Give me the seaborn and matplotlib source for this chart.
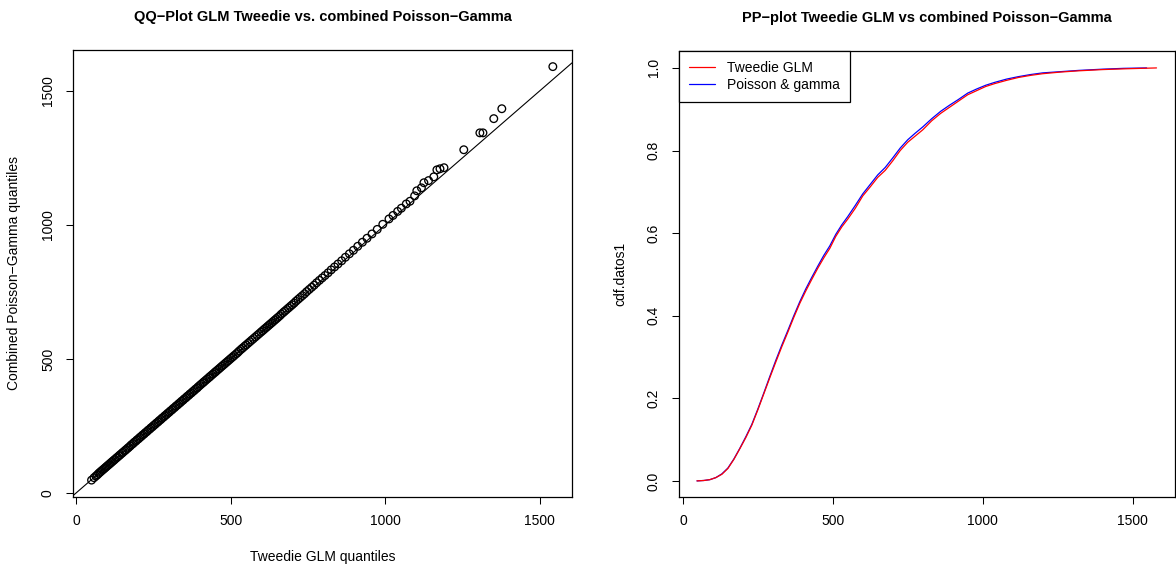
import matplotlib
matplotlib.use("Agg")
import matplotlib.pyplot as plt
import seaborn as sns
import pandas as pd

# ---------------- data ----------------
qq_tweedie = [50, 58, 64, 69, 73, 77, 81, 85, 89, 93, 97, 101, 105, 109, 113, 117, 121,
              125, 130, 134, 139, 143, 148, 152, 157, 161, 166,
              170, 175, 179, 184, 188, 193, 197, 202, 206, 211,
              215, 220, 224, 229, 233, 238, 242, 247, 251, 256,
              260, 265, 269, 274, 278, 283, 287, 292, 296, 301,
              305, 310, 314, 319, 323, 328, 332, 337, 341, 346,
              350, 355, 359, 364, 368, 373, 377, 382, 386, 391,
              395, 400, 405, 410, 414, 419, 424, 429, 433, 438,
              443, 448, 452, 457, 462, 467, 472, 477, 482, 487,
              492, 497, 502, 507, 512, 518, 523, 528, 534, 539,
              545, 550, 556, 562, 568, 574, 580, 586, 592, 598,
              603, 608, 613, 618, 623, 628, 633, 638, 643, 648,
              653, 659, 664, 670, 675, 681, 687, 693, 699, 705,
              711, 718, 725, 732, 739, 746, 754, 762, 770, 778,
              787, 796, 805, 815, 825, 836, 847, 859, 871, 884,
              897, 911, 926, 941, 957, 974, 992,
              1012, 1025, 1040, 1052, 1068, 1080, 1095, 1102, 1117, 1125,
              1140, 1157, 1167, 1177, 1190, 1254, 1306, 1316, 1351, 1377, 1542]
qq_poisgamma = [48, 57, 63, 68, 73, 77, 81, 85, 89, 93, 97, 101, 105, 109, 113, 117, 121,
                125, 130, 134, 139, 143, 148, 152, 157, 161, 166,
                170, 175, 180, 184, 189, 193, 198, 202, 207, 211,
                216, 220, 225, 229, 234, 238, 243, 247, 252, 256,
                261, 265, 270, 274, 279, 283, 288, 292, 297, 301,
                306, 310, 315, 319, 324, 328, 333, 337, 342, 346,
                351, 355, 360, 364, 369, 373, 378, 382, 387, 391,
                396, 401, 406, 411, 415, 420, 425, 430, 434, 439,
                444, 449, 453, 458, 463, 468, 473, 478, 483, 488,
                493, 498, 503, 508, 513, 519, 524, 530, 536, 541,
                547, 552, 558, 564, 570, 576, 582, 588, 594, 600,
                605, 610, 615, 620, 625, 630, 635, 640, 645, 650,
                655, 661, 667, 673, 678, 684, 690, 696, 702, 708,
                715, 722, 729, 736, 743, 751, 759, 767, 775, 784,
                793, 802, 811, 821, 832, 843, 854, 866, 879, 892,
                905, 920, 935, 950, 966, 983, 1002,
                1022, 1035, 1050, 1062, 1078, 1088, 1108, 1127, 1138, 1157,
                1165, 1179, 1205, 1209, 1213, 1280, 1343, 1343, 1396, 1433, 1590]

tweedie_x = [47, 70, 90, 110, 130, 150, 170, 190, 210, 230, 250, 270, 290, 310, 330, 350,
             370, 390, 410, 430, 450, 470, 490, 510, 530, 550, 575, 600, 625, 650, 675, 700,
             725, 750, 775, 800, 830, 860, 890, 920, 950, 980, 1010, 1040, 1080, 1120, 1160,
             1200, 1260, 1320, 1400, 1480, 1580]
tweedie_cdf = [0.000, 0.001, 0.003, 0.008, 0.016, 0.030, 0.052, 0.078, 0.105, 0.135,
               0.172, 0.211, 0.250, 0.288, 0.325, 0.360, 0.396, 0.430, 0.460, 0.488,
               0.515, 0.540, 0.563, 0.592, 0.615, 0.634, 0.660, 0.690, 0.712, 0.735,
               0.752, 0.775, 0.800, 0.820, 0.835, 0.850, 0.872, 0.890, 0.905, 0.920,
               0.935, 0.945, 0.955, 0.962, 0.970, 0.977, 0.982, 0.986, 0.990, 0.993,
               0.996, 0.998, 1.000]
pg_x = [47, 70, 90, 110, 130, 150, 170, 190, 210, 230, 250, 270, 290, 310, 330, 350,
        370, 390, 410, 430, 450, 470, 490, 510, 530, 550, 575, 600, 625, 650, 675, 700,
        725, 750, 775, 800, 830, 860, 890, 920, 950, 980, 1010, 1040, 1080, 1120, 1160,
        1200, 1260, 1320, 1400, 1470, 1547]
pg_cdf = [0.000, 0.001, 0.003, 0.008, 0.017, 0.031, 0.053, 0.079, 0.107, 0.137,
          0.174, 0.213, 0.253, 0.292, 0.329, 0.364, 0.400, 0.434, 0.465, 0.493,
          0.520, 0.546, 0.569, 0.597, 0.620, 0.640, 0.667, 0.695, 0.718, 0.741,
          0.759, 0.782, 0.806, 0.826, 0.842, 0.857, 0.877, 0.895, 0.910, 0.924,
          0.939, 0.949, 0.958, 0.965, 0.973, 0.979, 0.984, 0.988, 0.991, 0.994,
          0.997, 0.999, 1.000]

xticks = [0, 500, 1000, 1500]
qq_yticks = [0, 500, 1000, 1500]
pp_yticks = [0.0, 0.2, 0.4, 0.6, 0.8, 1.0]
pp_yticklabels = ["0.0", "0.2", "0.4", "0.6", "0.8", "1.0"]

title_left = "QQ\u2212Plot GLM Tweedie vs. combined Poisson\u2212Gamma"
title_right = "PP\u2212plot Tweedie GLM vs combined Poisson\u2212Gamma"
xlabel_left = "Tweedie GLM quantiles"
ylabel_left = "Combined Poisson\u2212Gamma quantiles"
ylabel_right = "cdf.datos1"
legend_labels = ["Tweedie GLM", "Poisson & gamma"]

# ---------------- style ----------------
sns.set_theme(style="white")
plt.rcParams["font.family"] = ["Liberation Sans", "DejaVu Sans"]
plt.rcParams["axes.edgecolor"] = "black"
plt.rcParams["axes.linewidth"] = 0.9
plt.rcParams["text.color"] = "black"
plt.rcParams["axes.labelcolor"] = "black"

fig = plt.figure(figsize=(11.76, 5.67), dpi=100)
ax1 = fig.add_axes([73 / 1176, 1 - 497 / 567, (572 - 73) / 1176, (497 - 50) / 567])
ax2 = fig.add_axes([679 / 1176, 1 - 497 / 567, (1174.5 - 679) / 1176, (497 - 51) / 567])

# ---------------- QQ plot ----------------
qq = pd.DataFrame({"tweedie": qq_tweedie, "pg": qq_poisgamma})
sns.scatterplot(data=qq, x="tweedie", y="pg", ax=ax1, marker="o", s=30,
                facecolors="none", edgecolor="black", linewidth=0.95, zorder=3)
ax1.axline((0, 0), slope=1, color="black", lw=0.8, zorder=2)
ax1.set_xlim(-10, 1604)
ax1.set_ylim(-15, 1652)

# ---------------- PP plot ----------------
df_t = pd.DataFrame({"x": tweedie_x, "cdf": tweedie_cdf})
df_p = pd.DataFrame({"x": pg_x, "cdf": pg_cdf})
sns.lineplot(data=df_t, x="x", y="cdf", ax=ax2, color="red", lw=0.9,
             sort=False, estimator=None, label=legend_labels[0], zorder=3)
sns.lineplot(data=df_p, x="x", y="cdf", ax=ax2, color="blue", lw=0.9,
             sort=False, estimator=None, label=legend_labels[1], zorder=2)
ax2.set_xlim(-13, 1640)
ax2.set_ylim(-0.039, 1.041)

# ---------------- axes cosmetics ----------------
for ax in (ax1, ax2):
    for sp in ax.spines.values():
        sp.set_visible(True)
        sp.set_color("black")
        sp.set_linewidth(0.9)
    ax.tick_params(axis="both", which="both", direction="out", length=5, width=0.75,
                   color="black", labelsize=10, labelcolor="black",
                   bottom=True, left=True, top=False, right=False)
    ax.tick_params(axis="x", pad=7)
    ax.tick_params(axis="y", pad=8)
    ax.set_xticks(xticks)
    ax.set_xticklabels([str(t) for t in xticks])
    ax.grid(False)

ax1.set_yticks(qq_yticks)
ax1.set_yticklabels([str(t) for t in qq_yticks], rotation=90, va="center")
ax2.set_yticks(pp_yticks)
ax2.set_yticklabels(pp_yticklabels, rotation=90, va="center")

ax1.set_title(title_left, fontsize=10.5, fontweight="bold", pad=21)
ax2.set_title(title_right, fontsize=10.5, fontweight="bold", pad=21)

ax1.set_xlabel(xlabel_left, fontsize=10, va="center")
ax1.xaxis.set_label_coords(0.5, -(557 - 497) / 447)
ax1.set_ylabel(ylabel_left, fontsize=10, va="center")
ax1.yaxis.set_label_coords((14 - 73) / 499, 0.5)

ax2.set_xlabel("")
ax2.set_ylabel(ylabel_right, fontsize=10, va="center")
ax2.yaxis.set_label_coords((620 - 679) / 496, 0.5)

handles, labels = ax2.get_legend_handles_labels()
leg = ax2.legend(handles, labels, loc="upper left", borderaxespad=0, frameon=True,
                 fancybox=False, edgecolor="black", framealpha=1, fontsize=10,
                 handlelength=1.9, handletextpad=0.85, borderpad=0.7, labelspacing=0.25)
leg.get_frame().set_linewidth(0.9)

fig.savefig("out.png", dpi=100, facecolor="white")
